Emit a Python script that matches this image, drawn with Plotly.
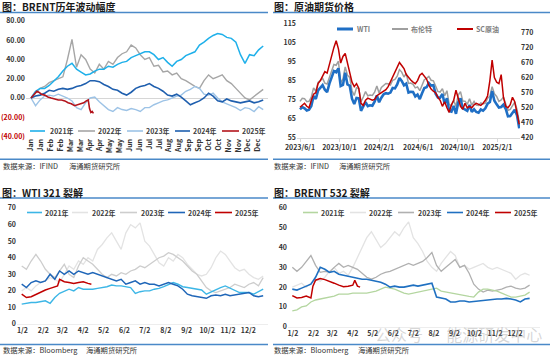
import plotly.graph_objects as go
import pandas as pd

# ================= DATA =================
# Panel 1: BRENT yearly change (%), weekly points by day-of-year
p1_days = list(range(1, 359, 7))
brent_chg_2021 = [0, 7, 10, 10, 13, 17, 22, 28, 33, 36, 30, 27, 24, 25, 28, 30, 30, 33, 32, 35,
                  37, 38, 42, 44, 46, 48, 48, 45, 40, 42, 37, 33, 38, 40, 44, 46, 48, 55, 58, 62,
                  65, 67, 66, 63, 62, 58, 45, 36, 45, 44, 50, 54]
brent_chg_2022 = [0, 5, 10, 12, 16, 18, 20, 22, 40, 61, 32, 45, 40, 30, 26, 35, 30, 38, 35, 42,
                  46, 48, 55, 52, 45, 40, 42, 33, 34, 27, 28, 24, 26, 20, 18, 15, 12, 10, 18, 24,
                  20, 22, 24, 18, 15, 10, 5, 0, -2, 2, 5, 9]
brent_chg_2023 = [0, -8, -2, 2, 3, 2, 4, 2, 0, -3, -10, -12, -5, 0, 1, -4, -8, -12, -14, -10,
                  -12, -13, -11, -12, -14, -10, -10, -7, -5, -3, -2, 0, 2, 3, 7, 9, 12, 10, 4, 3,
                  5, 0, -4, -6, -8, -10, -13, -10, -11, -14, -9, -12]
brent_chg_2024 = [0, 2, 3, 5, 8, 7, 9, 10, 9, 10, 12, 13, 15, 18, 18, 17, 14, 12, 9, 8,
                  5, 3, 6, 10, 12, 13, 15, 12, 10, 7, 3, 2, 4, 1, -3, -7, -5, -3, 0, 5,
                  2, -3, -4, -1, -3, -4, -5, -4, -3, -5, -4, -2]
brent_2025_days = [1, 5, 10, 13, 17, 22, 27, 32, 37, 43, 48, 53, 58, 63, 68, 72, 77, 82, 86, 89, 91, 93, 95, 97]
brent_chg_2025 = [0, 3, 7, 6, 4, 3, 1, 0, -1, -2, -2, -3, -5, -6, -8, -7, -6, -5, -3, -2, -11, -15, -14, -16]
month_labels = ["Jan", "Jan", "Feb", "Feb", "Mar", "Mar", "Apr", "Apr", "May", "May", "Jun", "Jun",
                "Jul", "Jul", "Aug", "Aug", "Sep", "Sep", "Oct", "Oct", "Nov", "Nov", "Dec", "Dec"]
p1_yvals = [80, 60, 40, 20, 0, -20, -40]
p1_ytext = ["80.00", "60.00", "40.00", "20.00", "0.00", "(20.00)", "(40.00)"]

# Panel 2: crude futures prices, weekly from 2023-06-01
p2_dates = pd.date_range("2023-06-01", periods=98, freq="7D")
wti_price = [70.1, 71.3, 70.6, 69.5, 69.9, 71.8, 77.0, 75.6, 80.1, 81.6, 82.8, 80.4, 79.1, 83.6, 87.5, 90.2,
             89.6, 91.7, 82.3, 82.9, 89.4, 83.2, 82.5, 75.7, 72.9, 76.1, 75.9, 69.3, 71.6, 73.9, 71.8,
             72.2, 72.0, 74.1, 77.4, 73.8, 76.2, 78.0, 78.6, 78.3, 78.9, 81.3, 81.1, 83.2, 86.6, 85.0,
             82.7, 83.6, 78.9, 79.3, 79.2, 76.9, 77.9, 75.5, 78.6, 81.3, 81.7, 83.9, 82.6, 82.8, 78.3,
             76.3, 76.2, 78.2, 73.0, 75.9, 69.2, 68.9, 71.9, 67.7, 73.7, 75.9, 70.7, 70.2, 69.3, 72.4,
             68.7, 70.1, 68.7, 68.3, 70.0, 69.4, 70.6,
             73.1, 73.9, 79.7, 74.6, 72.7, 71.0, 71.3, 72.5, 70.4, 66.4, 66.6, 68.1, 69.9, 66.9, 60.1]
brent_price = [74.3, 75.9, 75.7, 74.1, 74.3, 76.5, 81.4, 79.6, 84.2, 85.1, 86.4, 83.9, 83.4, 86.9, 90.6, 93.7,
               93.3, 95.4, 84.1, 86.0, 92.4, 88.0, 86.9, 80.0, 77.4, 81.4, 80.9, 74.1, 76.6, 79.4, 77.2,
               77.6, 77.4, 79.1, 82.4, 78.7, 81.6, 82.9, 83.7, 83.6, 82.9, 85.4, 85.8, 87.5, 91.0, 89.7,
               87.1, 89.0, 83.7, 83.9, 83.3, 81.4, 81.9, 79.9, 82.8, 85.7, 86.4, 87.4, 85.4, 85.1, 82.4,
               79.5, 79.2, 81.0, 77.2, 79.9, 72.7, 71.9, 74.9, 71.6, 77.6, 79.4, 74.5, 74.4, 72.8, 75.6,
               72.3, 74.2, 72.3, 72.1, 73.5, 72.9, 73.3,
               75.9, 76.9, 82.0, 78.3, 76.9, 74.3, 75.0, 76.5, 73.0, 69.5, 70.0, 71.9, 73.9, 70.1, 63.3]
sc_price = [522, 530, 535, 525, 520, 545, 565, 570, 600, 610, 625, 640, 635, 665, 685, 720, 742, 715, 668, 690,
            700, 665, 640, 605, 590, 600, 585, 535, 528, 545, 552, 548, 545, 548, 560, 565, 570, 575, 580, 590,
            605, 625, 640, 655, 670, 660, 650, 630, 620, 612, 605, 600, 610, 628, 634, 625, 615, 595, 582, 575,
            570, 555, 545, 525, 540, 520, 505, 530, 545, 578, 550, 525, 515, 535, 520, 525, 520, 530, 535, 532,
            528, 535, 545, 560, 610, 678, 620, 605, 600, 630, 555, 525, 520, 530, 555, 540, 505, 465]
p2_tick_dates = ["2023-06-01", "2023-10-01", "2024-02-01", "2024-06-01", "2024-10-01", "2025-02-01"]
p2_tick_text = ["2023/6/1", "2023/10/1", "2024/2/1", "2024/6/1", "2024/10/1", "2025/2/1"]

# Panels 3/4: crack spreads, weekly by day-of-year
crack_days = list(range(1, 359, 7))
md_tick_days = [2, 33, 61, 92, 122, 153, 183, 214, 245, 275, 306, 336]
md_tick_text = ["1/2", "2/2", "3/2", "4/2", "5/2", "6/2", "7/2", "8/2", "9/2", "10/2", "11/2", "12/2"]

wti321_2021 = [12, 12.5, 13, 13, 13.5, 14, 12.5, 16, 18.5, 20, 21, 20, 22, 21, 21, 21, 21.5, 22, 22.5, 23.5,
               23, 23, 22.5, 22, 18.5, 19.5, 20, 20, 21, 21.5, 22.5, 24, 25, 24, 22.5, 22, 21.5, 21, 20.5, 18,
               19.5, 21, 22, 23, 21.5, 20, 19, 19, 19, 18, 19.5, 21]
wti321_2022 = [20, 22, 20, 23, 25, 26, 28, 27, 25, 30, 35, 33, 38, 36, 40, 38, 45, 48, 52, 55,
               50, 45, 55, 60, 58, 61, 50, 47, 42, 37, 35, 40, 38, 42, 40, 36, 33, 30, 29, 30,
               34, 40, 44, 42, 38, 34, 32, 33, 30, 28, 27, 29]
wti321_2023 = [35, 33, 38, 42, 38, 33, 30, 28, 32, 36, 30, 28, 35, 40, 38, 36, 33, 30, 28, 30,
               29, 31, 30, 32, 33, 35, 34, 36, 38, 40, 41, 43, 42, 40, 38, 35, 32, 30, 26, 22,
               20, 19, 20, 21, 22, 24, 23, 22, 24, 25, 23, 28]
wti321_2024 = [24, 22, 25, 26, 25, 26, 30, 27, 32, 30, 32, 30, 32, 31, 30, 31, 30, 29, 28, 27,
               26, 27, 24, 25, 26, 24, 25, 24, 24, 23, 24, 25, 24, 23, 21, 18, 17, 16.5, 16, 15.5,
               17, 17.5, 17, 18, 17, 17.5, 18, 18.5, 19, 17, 16.5, 17]
wti321_2025_days = [1, 4, 8, 15, 22, 29, 36, 43, 50, 54, 57, 64, 71, 78, 85, 92, 99, 104]
wti321_2025 = [18, 17, 16, 16.5, 18, 19, 20.5, 21.5, 22.5, 23, 27, 25.5, 25, 24.5, 25, 25.5, 24.5, 24]

brent532_2021 = [8, 8.5, 10, 10.5, 12.5, 13.5, 14, 14.5, 15, 15.5, 16.5, 16.5, 16.5, 17, 17, 17, 17, 17.5, 18, 19,
                 20, 19.5, 19, 18, 17, 16.5, 17, 17.5, 18, 18.5, 19, 19.5, 18, 17.5, 17, 16.5, 16, 15.5, 15.3, 15,
                 17.5, 19, 19, 18.5, 18, 17, 16, 15, 15, 15.5, 16, 17.5]
brent532_2022 = [20, 21, 22, 20, 22, 24, 23, 25, 28, 30, 27, 28, 26, 30, 35, 40, 45, 48, 44, 40,
                 42, 45, 48, 46, 50, 53, 45, 42, 38, 33, 30, 28, 32, 35, 38, 36, 30, 31, 29, 30,
                 31, 32, 30, 29, 30, 29, 28, 27, 24, 26, 27, 26]
brent532_2023 = [30, 28, 30, 33, 36, 31, 27.5, 28, 27.5, 30, 32, 30, 31, 30, 29, 27, 25, 24, 25, 26.5,
                 27.5, 28, 29, 30, 31, 32, 31, 32, 33, 35, 37.5, 31, 28, 30, 32, 34, 30, 31, 27, 21.5,
                 19, 17.5, 18.5, 18, 18.5, 19, 20, 20.5, 19.5, 19, 19.5, 21]
brent532_2024 = [19, 18.5, 19.5, 20.5, 21.5, 25, 30, 29, 27.5, 28, 26.5, 26, 25.5, 25, 24.5, 24, 24, 23.5, 23, 22.5,
                 21.5, 20, 20.5, 20, 20, 20.5, 21, 20.5, 21, 21.5, 22, 15, 14.5, 14, 12.5, 12.5, 13, 13, 12.5, 12.8,
                 13, 13.2, 13.5, 14, 14, 14, 14.3, 14, 13.5, 12.5, 14, 14.3]
brent532_2025_days = [1, 8, 15, 22, 29, 32, 36, 43, 50, 57, 64, 71, 78, 85, 92, 95, 99, 103]
brent532_2025 = [15.7, 14.5, 14.8, 15.5, 14.5, 20.5, 23.5, 24.3, 23.8, 23, 22, 21, 20.2, 20.5, 21, 23.5, 20.5, 20]

# ================= STYLE / LAYOUT =================
W, H = 550, 358
FONT = "Noto Sans CJK SC, Noto Sans, sans-serif"


def fx(px):
    return px / W


def fy(py):
    return 1 - py / H


def lin_range(p0, p1, a, A, scale):
    return [a + (p0 - A) / scale, a + (p1 - A) / scale]


C = dict(
    p1_2021="#1fb0ea", p1_2022="#a6a6a6", p1_2023="#9dc3e6", p1_2024="#1f5fae", p1_2025="#b3141c",
    wti="#1f6fc5", brent="#9f9f9f", sc="#c00000",
    p3_2021="#3cb6e6", p3_2022="#e3e3e3", p3_2023="#cdcdcd", p3_2024="#1f66b8", p3_2025="#c00000",
    p4_2021="#b4d6a0", p4_2022="#e3e3e3", p4_2023="#b0b0b0", p4_2024="#1f70c1", p4_2025="#c00000",
)

fig = go.Figure()


def add_line(x, y, color, width, xa, ya):
    fig.add_trace(go.Scatter(x=x, y=y, mode="lines", line=dict(color=color, width=width),
                             xaxis=xa, yaxis=ya, showlegend=False, hoverinfo="skip"))


# Panel 1
add_line(p1_days, brent_chg_2022, C["p1_2022"], 1.4, "x", "y")
add_line(p1_days, brent_chg_2023, C["p1_2023"], 1.4, "x", "y")
add_line(p1_days, brent_chg_2021, C["p1_2021"], 1.5, "x", "y")
add_line(p1_days, brent_chg_2024, C["p1_2024"], 1.6, "x", "y")
add_line(brent_2025_days, brent_chg_2025, C["p1_2025"], 1.6, "x", "y")

# Panel 2
add_line(p2_dates, brent_price, C["brent"], 1.5, "x2", "y2")
add_line(p2_dates, wti_price, C["wti"], 2.6, "x2", "y2")
add_line(p2_dates, sc_price, C["sc"], 1.5, "x2", "y3")

# Panel 3
add_line(crack_days, wti321_2022, C["p3_2022"], 1.3, "x3", "y4")
add_line(crack_days, wti321_2023, C["p3_2023"], 1.3, "x3", "y4")
add_line(crack_days, wti321_2021, C["p3_2021"], 1.4, "x3", "y4")
add_line(crack_days, wti321_2024, C["p3_2024"], 1.5, "x3", "y4")
add_line(wti321_2025_days, wti321_2025, C["p3_2025"], 1.5, "x3", "y4")

# Panel 4
add_line(crack_days, brent532_2022, C["p4_2022"], 1.3, "x4", "y5")
add_line(crack_days, brent532_2023, C["p4_2023"], 1.3, "x4", "y5")
add_line(crack_days, brent532_2021, C["p4_2021"], 1.3, "x4", "y5")
add_line(crack_days, brent532_2024, C["p4_2024"], 1.6, "x4", "y5")
add_line(brent532_2025_days, brent532_2025, C["p4_2025"], 1.5, "x4", "y5")

tickfont = dict(family=FONT, size=7, color="#333333", weight="bold")

# axis geometry
p1_x = lin_range(26, 268, 1, 31, 227 / 349)
p1_tickvals = [1 + i * 349 / 23 for i in range(24)]
p1_ticktext = [t if not t.startswith("(") else '<span style="color:#c00000">%s</span>' % t for t in p1_ytext]

day_px = 197.3 / 611
d0 = pd.Timestamp("2023-06-01")
p2_x = [(d0 + pd.Timedelta(days=(297 - 300) / day_px)).strftime("%Y-%m-%d %H:%M"),
        (d0 + pd.Timedelta(days=(520 - 300) / day_px)).strftime("%Y-%m-%d %H:%M")]
p3_x = lin_range(17, 268, 1, 21.7, (248.3 - 21.7) / 335)
p4_x = lin_range(288, 540, 1, 292.3, (515 - 292.3) / 335)

common_ax = dict(showgrid=False, zeroline=False, fixedrange=True, automargin=False)

fig.update_layout(
    template="none",
    width=W, height=H, margin=dict(l=0, r=0, t=0, b=0, pad=0), autosize=False,
    paper_bgcolor="white", plot_bgcolor="white",
    font=dict(family=FONT, size=7, color="#333333"),
    showlegend=False,
    xaxis=dict(domain=[fx(26), fx(268)], anchor="y", range=p1_x, tickmode="array",
               tickvals=p1_tickvals, ticktext=month_labels, tickangle=-90, tickfont=tickfont,
               showline=False, ticks="", **common_ax),
    yaxis=dict(domain=[fy(136.5), fy(21)], anchor="x", range=[-40, 80], tickmode="array",
               tickvals=p1_yvals, ticktext=p1_ticktext, tickfont=tickfont, showgrid=False,
               zeroline=True, zerolinecolor="#d6d6d6", zerolinewidth=1, showline=False, ticks="",
               fixedrange=True, automargin=False),
    xaxis2=dict(domain=[fx(297), fx(520)], anchor="y2", type="date", range=p2_x, tickmode="array",
                tickvals=p2_tick_dates, ticktext=p2_tick_text, tickfont=tickfont, tickangle=0,
                showline=True, linecolor="#d9d9d9", linewidth=1, ticks="outside", ticklen=3,
                tickcolor="#d9d9d9", **common_ax),
    yaxis2=dict(domain=[fy(138), fy(24)], anchor="x2", range=[55, 115], tickmode="array",
                tickvals=[55, 65, 75, 85, 95, 105, 115], tickfont=tickfont, showline=False, ticks="",
                **common_ax),
    yaxis3=dict(overlaying="y2", side="right", anchor="x2", range=[420, 797.5], tickmode="array",
                tickvals=[420, 470, 520, 570, 620, 670, 720, 770], tickfont=tickfont, showline=False,
                ticks="", **common_ax),
    xaxis3=dict(domain=[fx(17), fx(268)], anchor="y4", range=p3_x, tickmode="array",
                tickvals=md_tick_days, ticktext=md_tick_text, tickfont=tickfont, tickangle=0,
                showline=True, linecolor="#ededed", linewidth=1, ticks="", **common_ax),
    yaxis4=dict(domain=[fy(324), fy(208)], anchor="x3", range=[0, 70], tickmode="array",
                tickvals=[0, 10, 20, 30, 40, 50, 60, 70], tickfont=tickfont, showline=False, ticks="",
                **common_ax),
    xaxis4=dict(domain=[fx(288), fx(540)], anchor="y5", range=p4_x, tickmode="array",
                tickvals=md_tick_days, ticktext=md_tick_text, tickfont=tickfont, tickangle=0,
                showline=True, linecolor="#ededed", linewidth=1, ticks="", **common_ax),
    yaxis5=dict(domain=[fy(326.7), fy(208)], anchor="x4", range=[0, 60], tickmode="array",
                tickvals=[0, 10, 20, 30, 40, 50, 60], tickfont=tickfont, showline=False, ticks="",
                **common_ax),
)

shapes = []
annotations = []


def hline(x0, x1, y, color="#4a89c8", width=1.6):
    shapes.append(dict(type="line", xref="paper", yref="paper", x0=fx(x0), x1=fx(x1),
                       y0=fy(y), y1=fy(y), line=dict(color=color, width=width)))


def text(t, x, y, size=7, color="#333333", bold=False, anchor="left"):
    annotations.append(dict(text=t, x=fx(x), y=fy(y), xref="paper", yref="paper", xanchor=anchor,
                            yanchor="middle", showarrow=False, borderpad=0,
                            font=dict(family=FONT, size=size, color=color,
                                      weight="bold" if bold else "normal")))


def legend_item(x0, x1, y, color, width, label, tx, tcolor="#404040"):
    hline(x0, x1, y, color, width)
    text(label, tx, y, size=7, color=tcolor, bold=True)


# separator rules
for (a, b) in [(0, 268), (273, 550)]:
    hline(a, b, 12.5)
    hline(a, b, 159.3)
    hline(a, b, 198)
    hline(a, b, 344.5)

# titles
text("图：BRENT历年波动幅度", 1, 6.5, size=10, color="#1a1a1a", bold=True)
text("图：原油期货价格", 273, 6.5, size=10, color="#1a1a1a", bold=True)
text("图：WTI 321 裂解", 1, 192.3, size=10, color="#1a1a1a", bold=True)
text("图：BRENT 532 裂解", 273, 192.3, size=10, color="#1a1a1a", bold=True)

# sources
text("数据来源：IFIND", 2, 166.3, size=7.3)
text("海通期货研究所", 68, 166.3, size=7.3)
text("数据来源：IFIND", 273, 166.3, size=7.3)
text("海通期货研究所", 338, 166.3, size=7.3)
text("数据来源：Bloomberg", 2, 350.3, size=7.3)
text("海通期货研究所", 85, 350.3, size=7.3)
text("数据来源：Bloomberg", 273, 350.3, size=7.3)
text("海通期货研究所", 357, 350.3, size=7.3)

# legends
yrs = ["2021年", "2022年", "2023年", "2024年", "2025年"]
p1_leg = [(30, 45, 49), (78, 95, 97), (127, 143, 145), (175, 190, 192), (222, 239, 241)]
for (a, b, t), yr, k in zip(p1_leg, yrs, ["p1_2021", "p1_2022", "p1_2023", "p1_2024", "p1_2025"]):
    legend_item(a, b, 131, C[k], 1.6, yr, t)

legend_item(337, 353, 29, C["wti"], 3, "WTI", 356, "#7f7f7f")
legend_item(392, 408, 29, C["brent"], 2, "布伦特", 410, "#7f7f7f")
legend_item(457, 473, 29, C["sc"], 2, "SC原油", 475, "#7f7f7f")

p3_leg = [(27, 42, 44), (72, 88, 91), (120, 137, 140), (168, 185, 187), (215, 232, 234)]
for (a, b, t), yr, k in zip(p3_leg, yrs, ["p3_2021", "p3_2022", "p3_2023", "p3_2024", "p3_2025"]):
    legend_item(a, b, 212.5, C[k], 1.6, yr, t)

p4_leg = [(303, 318, 320), (350, 366, 368), (398, 414, 417), (447, 463, 465), (495, 511, 513)]
for (a, b, t), yr, k in zip(p4_leg, yrs, ["p4_2021", "p4_2022", "p4_2023", "p4_2024", "p4_2025"]):
    legend_item(a, b, 212.5, C[k], 1.6, yr, t)

# watermark
text("公众号 · 能源研发中心", 374, 334, size=16, color="rgba(140,140,140,0.35)")

fig.update_layout(shapes=shapes, annotations=annotations)
fig.write_html("out.html", config={"displayModeBar": False, "staticPlot": True},
               post_script="document.body.style.margin='0px';document.body.style.padding='0px';")
